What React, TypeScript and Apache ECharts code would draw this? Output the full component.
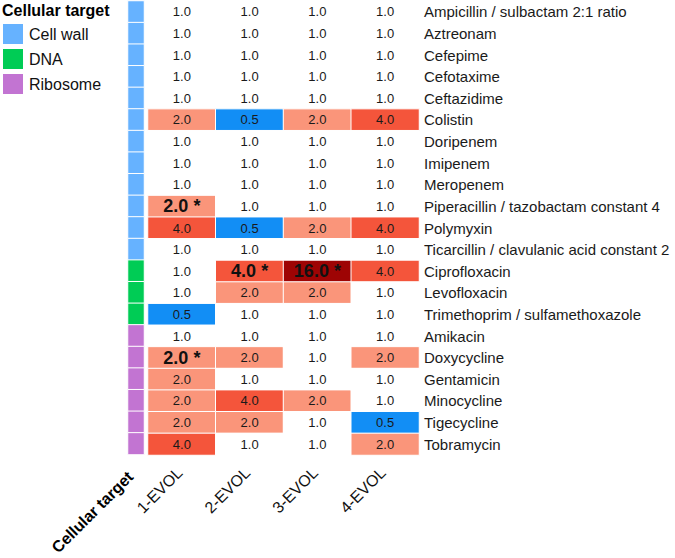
import React, { useEffect, useRef } from "react";
import * as echarts from "echarts";

const targets = ["Cell wall", "DNA", "Ribosome"];
const targetColors = ["#66b2ff", "#00cc55", "#c274d2"];

const antibiotics = [
  "Ampicillin / sulbactam 2:1 ratio",
  "Aztreonam",
  "Cefepime",
  "Cefotaxime",
  "Ceftazidime",
  "Colistin",
  "Doripenem",
  "Imipenem",
  "Meropenem",
  "Piperacillin / tazobactam constant 4",
  "Polymyxin",
  "Ticarcillin / clavulanic acid constant 2",
  "Ciprofloxacin",
  "Levofloxacin",
  "Trimethoprim / sulfamethoxazole",
  "Amikacin",
  "Doxycycline",
  "Gentamicin",
  "Minocycline",
  "Tigecycline",
  "Tobramycin",
];

const antibioticTarget = [
  "Cell wall", "Cell wall", "Cell wall", "Cell wall", "Cell wall", "Cell wall",
  "Cell wall", "Cell wall", "Cell wall", "Cell wall", "Cell wall", "Cell wall",
  "DNA", "DNA", "DNA",
  "Ribosome", "Ribosome", "Ribosome", "Ribosome", "Ribosome", "Ribosome",
];

const strains = ["1-EVOL", "2-EVOL", "3-EVOL", "4-EVOL"];

const evol1 = [1, 1, 1, 1, 1, 2, 1, 1, 1, 2, 4, 1, 1, 1, 0.5, 1, 2, 2, 2, 2, 4];
const evol2 = [1, 1, 1, 1, 1, 0.5, 1, 1, 1, 1, 0.5, 1, 4, 2, 1, 1, 2, 1, 4, 2, 1];
const evol3 = [1, 1, 1, 1, 1, 2, 1, 1, 1, 1, 2, 1, 16, 2, 1, 1, 1, 1, 2, 1, 1];
const evol4 = [1, 1, 1, 1, 1, 4, 1, 1, 1, 1, 4, 1, 4, 1, 1, 1, 2, 1, 1, 0.5, 2];

const significant: [string, string][] = [
  ["Piperacillin / tazobactam constant 4", "1-EVOL"],
  ["Ciprofloxacin", "2-EVOL"],
  ["Ciprofloxacin", "3-EVOL"],
  ["Doxycycline", "1-EVOL"],
];

const foldLevels = [0.5, 1, 2, 4, 16];
const foldColors = ["#128ef5", "#ffffff", "#fa957a", "#f4553b", "#9e0404"];

const FONT = "'Liberation Sans', Arial, Helvetica, sans-serif";

export default function App() {
  const ref = useRef<HTMLDivElement>(null);

  useEffect(() => {
    if (!ref.current) return;
    const chart = echarts.init(ref.current, null, { renderer: "svg" });

    const columns = [evol1, evol2, evol3, evol4];
    const sigSet = new Set(significant.map(([a, s]) => a + "|" + s));
    const heatData: number[][] = [];
    columns.forEach((col, c) => {
      col.forEach((v, r) => heatData.push([c, r, v]));
    });

    const targetSeries = targets.map((t, ti) => ({
      name: t,
      type: "heatmap",
      xAxisIndex: 0,
      yAxisIndex: 0,
      itemStyle: { color: targetColors[ti], borderColor: "#ffffff", borderWidth: 1 },
      emphasis: { disabled: true },
      data: antibioticTarget
        .map((tt, r) => (tt === t ? [0, r, ti] : null))
        .filter((d) => d !== null),
    }));

    const option: any = {
      animation: false,
      textStyle: { fontFamily: FONT },
      title: {
        text: "Cellular target",
        left: 2,
        top: 2,
        padding: 0,
        textStyle: { fontSize: 16, fontWeight: "bold", color: "#000", fontFamily: FONT },
      },
      legend: {
        data: targets,
        orient: "vertical",
        left: 1,
        top: 22,
        padding: 0,
        icon: "rect",
        itemWidth: 22,
        itemHeight: 22,
        itemGap: 1,
        selectedMode: false,
        textStyle: { fontSize: 16, color: "#111", fontFamily: FONT },
      },
      grid: [
        { left: 128, width: 16, top: 1, height: 454 },
        { left: 148, width: 271, top: 1, height: 454 },
      ],
      xAxis: [
        {
          type: "category",
          gridIndex: 0,
          data: ["Cellular target"],
          position: "bottom",
          axisLine: { show: false },
          axisTick: { show: false },
          axisLabel: {
            rotate: 45,
            margin: 14,
            padding: [0, 8, 0, 0],
            fontSize: 16,
            fontWeight: "bold",
            color: "#000",
            fontFamily: FONT,
          },
        },
        {
          type: "category",
          gridIndex: 1,
          data: strains,
          position: "bottom",
          axisLine: { show: false },
          axisTick: { show: false },
          axisLabel: {
            rotate: 45,
            margin: 13,
            padding: [0, 3, 0, 0],
            fontSize: 16,
            color: "#111",
            fontFamily: FONT,
          },
        },
      ],
      yAxis: [
        {
          type: "category",
          gridIndex: 0,
          data: antibiotics,
          inverse: true,
          axisLine: { show: false },
          axisTick: { show: false },
          axisLabel: { show: false },
        },
        {
          type: "category",
          gridIndex: 1,
          data: antibiotics,
          inverse: true,
          position: "right",
          axisLine: { show: false },
          axisTick: { show: false },
          axisLabel: {
            margin: 5,
            fontSize: 15,
            color: "#1a1a1a",
            fontFamily: FONT,
          },
        },
      ],
      visualMap: [
        {
          type: "piecewise",
          show: false,
          seriesIndex: [0, 1, 2],
          dimension: 2,
          pieces: targets.map((t, i) => ({ value: i, color: targetColors[i] })),
        },
        {
          type: "piecewise",
          show: false,
          seriesIndex: 3,
          dimension: 2,
          pieces: foldLevels.map((v, i) => ({ value: v, color: foldColors[i] })),
        },
      ],
      series: [
        ...targetSeries,
        {
          name: "Fold change",
          type: "heatmap",
          xAxisIndex: 1,
          yAxisIndex: 1,
          itemStyle: { borderColor: "#ffffff", borderWidth: 1 },
          emphasis: { disabled: true },
          label: {
            show: true,
            fontSize: 13,
            color: "#1a1a1a",
            fontFamily: FONT,
            formatter: (p: any) => {
              const [c, r, v] = p.value;
              const txt = Number(v).toFixed(1);
              if (sigSet.has(antibiotics[r] + "|" + strains[c])) {
                return "{b|" + txt + " *}";
              }
              return txt;
            },
            rich: {
              b: { fontSize: 18, fontWeight: "bold", color: "#111", fontFamily: FONT },
            },
          },
          data: heatData,
        },
      ],
    };

    chart.setOption(option);
    return () => chart.dispose();
  }, []);

  return (
    <div
      ref={ref}
      style={{ position: "fixed", left: 0, top: 0, width: 675, height: 558, background: "#fff" }}
    />
  );
}
